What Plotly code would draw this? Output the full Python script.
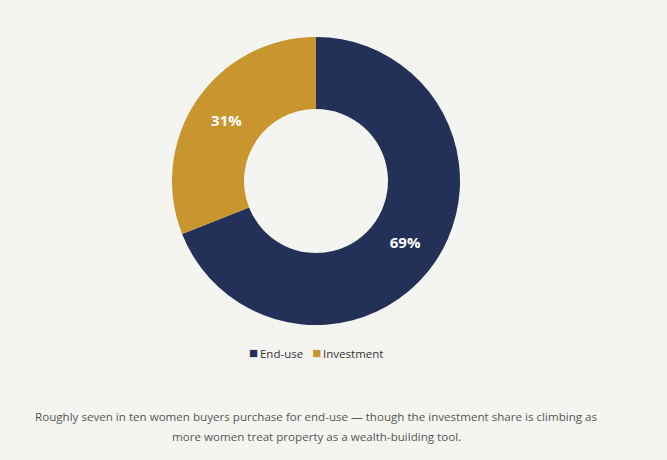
import plotly.graph_objects as go

labels = ["End-use", "Investment"]
values = [69, 31]
colors = ["#233057", "#c9952f"]
caption_lines = [
    "Roughly seven in ten women buyers purchase for end-use \u2014 though the investment share is climbing as",
    "more women treat property as a wealth-building tool.",
]

W, H = 667, 460
BG = "#f4f5f0"
FONT = "Open Sans"

fig = go.Figure(go.Pie(
    labels=labels,
    values=values,
    hole=0.5,
    sort=False,
    direction="clockwise",
    rotation=0,
    marker=dict(colors=colors, line=dict(width=0)),
    texttemplate="<b>%{percent:.0%}</b>",
    textposition="inside",
    insidetextorientation="horizontal",
    textfont=dict(color="white", size=15, family=FONT),
    hoverinfo="skip",
    showlegend=False,
    domain=dict(x=[0, 632 / W], y=[(H - 325) / H, (H - 37) / H]),
))

legend_text = "\u00A0\u00A0\u00A0".join(
    f"<span style='color:{c};font-size:15px'>\u25A0</span>"
    f"<span style='color:#333333'>\u2009{l}</span>"
    for l, c in zip(labels, colors)
)

annotations = [dict(text=legend_text, x=316 / W, y=(H - 352) / H, xref="paper", yref="paper",
                    xanchor="center", yanchor="middle", showarrow=False,
                    font=dict(size=11.5, family=FONT))]
for i, line in enumerate(caption_lines):
    annotations.append(dict(text=line, x=316 / W, y=(H - (416 + 20 * i)) / H, xref="paper", yref="paper",
                            xanchor="center", yanchor="middle", showarrow=False,
                            font=dict(size=11.6, color="#555555", family=FONT)))

fig.update_layout(
    width=W, height=H,
    margin=dict(l=0, r=0, t=0, b=0),
    paper_bgcolor=BG,
    plot_bgcolor=BG,
    font=dict(family=FONT, color="#333333", size=12),
    showlegend=False,
    annotations=annotations,
)

fig.write_html("out.html", config={"displayModeBar": False},
               post_script=f"document.body.style.margin='0';document.body.style.background='{BG}';")
